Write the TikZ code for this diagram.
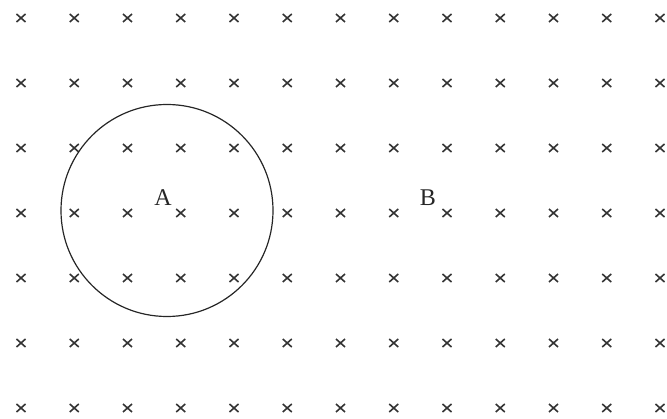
\documentclass[tikz,border=0pt]{standalone}
\usepackage{fontspec}
\setmainfont{Liberation Serif}
\begin{document}
\begin{tikzpicture}[x=1pt,y=-1pt,
  crossmark/.style={draw=black!80, line width=1.6pt},
  lbl/.style={font=\fontsize{24}{26}\selectfont, text=black!85, inner sep=0pt, anchor=base}]
\useasboundingbox (0,0) rectangle (667,419);
\foreach \i in {0,...,12}{
  \foreach \j in {0,...,6}{
    \pgfmathsetmacro{\cx}{21+53.25*\i}
    \pgfmathsetmacro{\cy}{18+65*\j}
    \draw[crossmark] (\cx-4.5,\cy-4) -- (\cx+4.5,\cy+4) (\cx-4.5,\cy+4) -- (\cx+4.5,\cy-4);
  }
}
\draw[line width=1.2pt, black!85] (167,210.5) circle (106);
\node[lbl] (A) at (163,206) {A};
\node[lbl] (B) at (428,206) {B};
\end{tikzpicture}
\end{document}
